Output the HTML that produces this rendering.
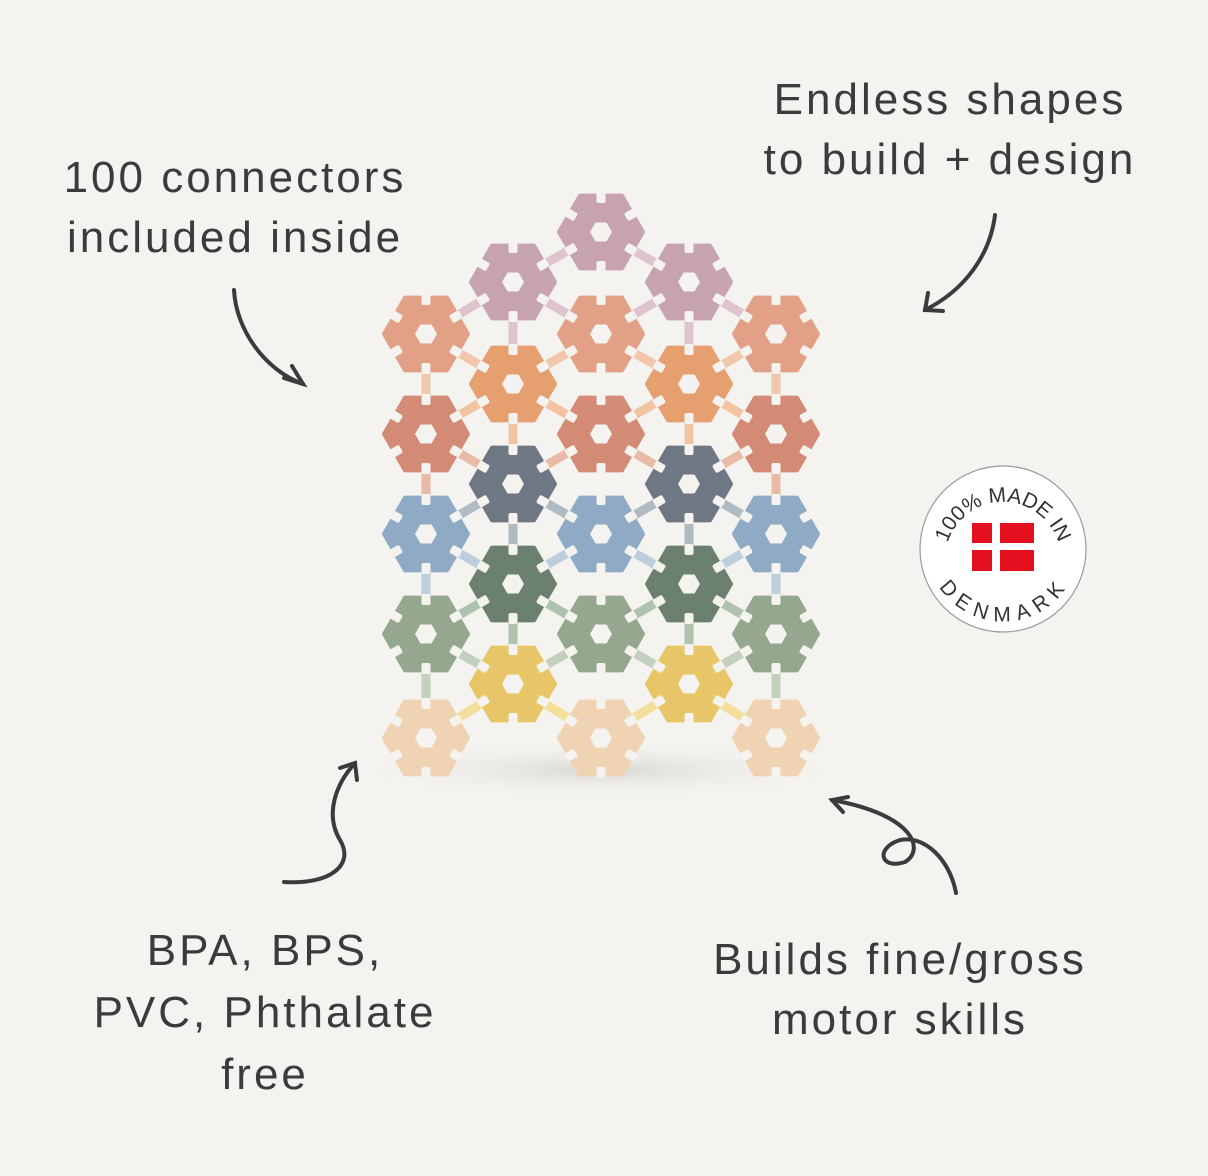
<!DOCTYPE html>
<html><head><meta charset="utf-8">
<style>
html,body{margin:0;padding:0;background:#f4f3ef;}
body{width:1208px;height:1176px;position:relative;overflow:hidden;font-family:"Liberation Sans",sans-serif;color:#3b3b3d;}
.t{position:absolute;font-size:44px;line-height:60px;text-align:center;letter-spacing:3px;white-space:nowrap;}
svg{position:absolute;left:0;top:0;}
</style></head><body>
<svg id="s" width="1208" height="1176" viewBox="0 0 1208 1176">
<defs>
<radialGradient id="sh" cx="0.5" cy="0.5" r="0.5"><stop offset="0" stop-color="#d9d7d2"/><stop offset="1" stop-color="#f4f3ef" stop-opacity="0"/></radialGradient>
</defs>
<ellipse cx="601" cy="770" rx="260" ry="30" fill="url(#sh)"/>
<g id="cn"></g>
<g id="fl"></g>
<g fill="none" stroke="#3b3b3d" stroke-width="4" stroke-linecap="round">
<path d="M234 290 C236 330 265 370 303 384"/><path d="M284 378 L303 384 L292 366"/>
<path d="M995 215 C990 255 965 290 925 310"/><path d="M928 293 L925 310 L943 311"/>
<path d="M284 882 C330 885 355 865 340 840 C325 815 335 785 355 763"/><path d="M340 768 L355 763 L357 780"/>
<path d="M956 893 C950 860 925 835 900 840 C875 848 880 870 905 862 C925 850 915 815 832 800"/><path d="M848 797 L832 800 L843 812"/>
</g>
<circle cx="1003" cy="549" r="83" fill="#fff" stroke="#9a9a9a" stroke-width="1.2"/>
<rect x="972" y="523" width="62" height="48" fill="#e3101f"/>
<rect x="992" y="523" width="8" height="48" fill="#fff"/>
<rect x="972" y="543" width="62" height="7" fill="#fff"/>
<path id="ta" d="M945 560 A58 58 0 0 1 1061 560" fill="none"/>
<path id="tb" d="M941 545 A62 62 0 0 0 1065 545" fill="none"/>
<text font-family="Liberation Sans" font-size="21" fill="#333"><textPath href="#ta" startOffset="50%" text-anchor="middle">100% MADE IN</textPath></text>
<text font-family="Liberation Sans" font-size="21" fill="#333" letter-spacing="3"><textPath href="#tb" startOffset="50%" text-anchor="middle" dominant-baseline="hanging">DENMARK</textPath></text>
</svg>
<div class="t" style="left:30px;top:148px;width:410px;">100 connectors<br>included inside</div>
<div class="t" style="left:720px;top:70px;width:460px;">Endless shapes<br>to build + design</div>
<div class="t" style="left:60px;top:920px;width:410px;line-height:62px;">BPA, BPS,<br>PVC, Phthalate<br>free</div>
<div class="t" style="left:660px;top:930px;width:480px;">Builds fine/gross<br>motor skills</div>
<script>
var rows=[
 [232,[601],'#c7a3b1','#dcbfc9'],
 [282,[513,689],'#c7a3b1','#dcbfc9'],
 [334,[426,601,776],'#e2a186','#f0c2a6'],
 [384,[513,689],'#e6a070','#f2c09a'],
 [434,[426,601,776],'#d48b76','#e8b5a0'],
 [484,[513,689],'#6f7784','#a9b4bf'],
 [534,[426,601,776],'#8eaac5','#b8cadb'],
 [584,[513,689],'#6c8070','#a9bcaa'],
 [634,[426,601,776],'#95a78f','#bfcdb9'],
 [684,[513,689],'#e8c566','#f3dc93'],
 [738,[426,601,776],'#efd3b2','#f6e4cc']
];
var NS='http://www.w3.org/2000/svg',cn=document.getElementById('cn'),fl=document.getElementById('fl');
function el(p,t,a){var e=document.createElementNS(NS,t);for(var k in a)e.setAttribute(k,a[k]);p.appendChild(e);return e;}
function line(x1,y1,x2,y2,c){el(cn,'line',{x1:x1,y1:y1,x2:x2,y2:y2,stroke:c,'stroke-width':9,'stroke-linecap':'round',opacity:0.9});}
var nodes=[];rows.forEach(function(r,i){r[1].forEach(function(x){nodes.push({x:x,y:r[0],i:i,c:r[2],l:r[3]});});});
nodes.forEach(function(a){nodes.forEach(function(b){
 if(b.i==a.i+1&&Math.abs(b.x-a.x)<100){line(a.x,a.y,b.x,b.y,a.l);}
 if(b.i==a.i+2&&b.x==a.x&&(a.x==426||a.x==776||(a.i%2==1)))line(a.x,a.y+25,b.x,b.y-25,a.l);
});});
function hex(cx,cy,r){var p=[];for(var k=0;k<6;k++){var a=k*Math.PI/3;p.push((cx+r*Math.cos(a)).toFixed(1)+','+(cy+r*Math.sin(a)).toFixed(1));}return p.join(' ');}
nodes.forEach(function(n){
 el(fl,'polygon',{points:hex(n.x,n.y,42),fill:n.c,'stroke':n.c,'stroke-width':4,'stroke-linejoin':'round'});
 for(var k=0;k<6;k++){var a=30+k*60;
  el(fl,'rect',{x:n.x-4.5,y:n.y-40,width:9,height:11,rx:2,fill:'#f4f3ef',transform:'rotate('+(a+90)+' '+n.x+' '+n.y+')'});}
 el(fl,'polygon',{points:hex(n.x,n.y,11),fill:'#f4f3ef'});
});
</script>
</body></html>
